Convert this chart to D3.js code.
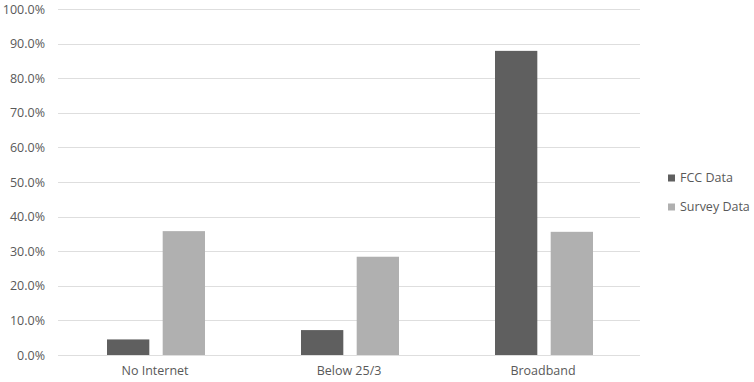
<!DOCTYPE html>
<html><head><meta charset="utf-8">
<script src="https://cdn.jsdelivr.net/npm/d3@7"></script>
<style>body{margin:0;background:#fff}svg{display:block}text{font-family:"Open Sans",sans-serif;fill:#595959}</style>
</head><body><svg id="c" width="754" height="382"></svg>
<script>
const categories = ["No Internet", "Below 25/3", "Broadband"];
const seriesNames = ["FCC Data", "Survey Data"];
const fccData = [4.5, 7.2, 87.9];
const surveyData = [35.8, 28.4, 35.6];
const yTicks = [0,10,20,30,40,50,60,70,80,90,100];
const colors = ["#5f5f5f", "#b0b0b0"];

(function(){
const svg = d3.select("#c");
const pLeft = 58, pRight = 640, pTop = 9, pBottom = 355;
const x = d3.scaleBand().domain(categories).range([pLeft, pRight]).paddingInner(0).paddingOuter(0);
const y = d3.scaleLinear().domain([0,100]).range([pBottom, pTop]);
const xs = d3.scaleBand().domain(seriesNames).range([0, 98]).paddingInner(0.24);

// gridlines
svg.append("g").selectAll("line").data(yTicks).join("line")
  .attr("x1", pLeft).attr("x2", pRight)
  .attr("y1", d => Math.round(y(d)) + 0.5).attr("y2", d => Math.round(y(d)) + 0.5)
  .attr("stroke", "#dedede").attr("stroke-width", 1);

// y axis labels
const yAxis = d3.axisLeft(y).tickValues(yTicks).tickFormat(d => d.toFixed(1) + "%").tickSize(0).tickPadding(0);
const ga = svg.append("g").attr("transform", `translate(45,0)`).call(yAxis);
ga.select(".domain").remove();
ga.selectAll("text").style("font-size", "12.5px").style("fill", "#595959").style("font-family", "'Open Sans',sans-serif");

// bars
const data = categories.map((c, i) => ({cat: c, vals: [fccData[i], surveyData[i]]}));
const groups = svg.append("g").selectAll("g").data(data).join("g")
  .attr("transform", d => `translate(${x(d.cat) + x.bandwidth()/2 - 48},0)`);
groups.selectAll("rect").data(d => d.vals.map((v, j) => ({v, s: seriesNames[j], j})))
  .join("rect")
  .attr("x", d => xs(d.s)).attr("width", xs.bandwidth())
  .attr("y", d => y(d.v)).attr("height", d => y(0) - y(d.v))
  .attr("fill", d => colors[d.j]);

// x labels
const xAxis = d3.axisBottom(x).tickSize(0).tickPadding(0);
const gx = svg.append("g").attr("transform", `translate(0,${pBottom + 11})`).call(xAxis);
gx.select(".domain").remove();
gx.selectAll("text").style("font-size", "12.5px").style("fill", "#595959").style("font-family", "'Open Sans',sans-serif");

// legend
const lg = svg.append("g").selectAll("g").data(seriesNames).join("g")
  .attr("transform", (d, i) => `translate(668,${178 + i * 29})`);
lg.append("rect").attr("x", 0).attr("y", -3.5).attr("width", 7).attr("height", 7).attr("fill", (d, i) => colors[i]);
lg.append("text").attr("x", 12).attr("y", 0).attr("dy", "0.35em").style("font-size", "12.5px").text(d => d);
})();
</script></body></html>
